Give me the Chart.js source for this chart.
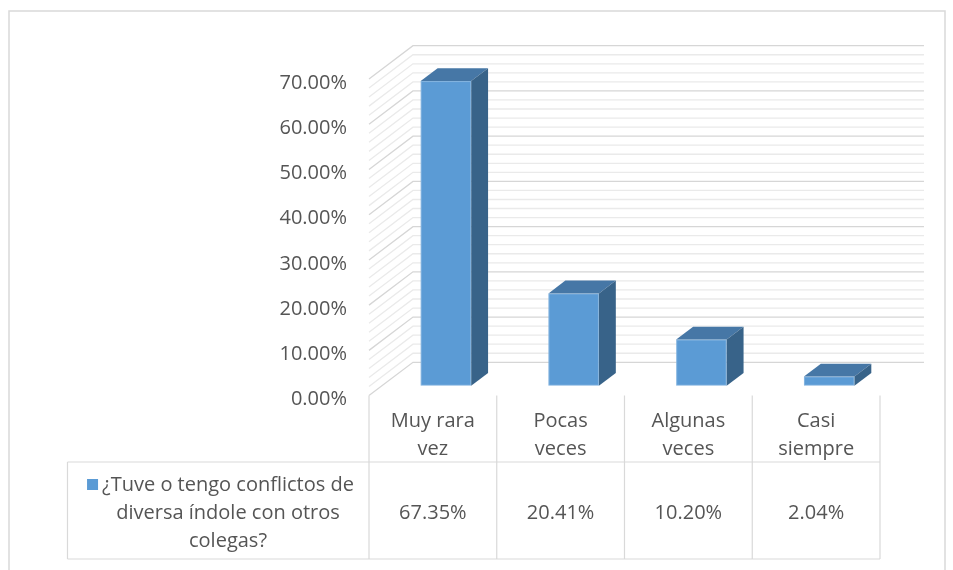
<!DOCTYPE html>
<html><head><meta charset="utf-8">
<script src="https://cdn.jsdelivr.net/npm/chart.js@4/dist/chart.umd.min.js"></script>
<style>html,body{margin:0;padding:0;background:#fff;}#wrap{width:953px;height:570px;}</style>
</head><body><div id="wrap"><canvas id="c" width="953" height="570"></canvas></div>
<script>
// ---- data ----
const categories = [['Muy rara', 'vez'], ['Pocas', 'veces'], ['Algunas', 'veces'], ['Casi', 'siempre']];
const seriesLabel = ['¿Tuve o tengo conflictos de', 'diversa índole con otros', 'colegas?'];
const values = [67.35, 20.41, 10.20, 2.04];
const yTickValues = [0, 10, 20, 30, 40, 50, 60, 70];
const minorStep = 2;

// ---- style ----
const FONT = '"Open Sans", sans-serif';
const FS = 20;
const TEXT = '#555555';
const FRONT = '#5B9BD5', TOP = '#4677A6', SIDE = '#386389';
const GRID_MAJOR = '#D6D6D6', GRID_MINOR = '#EAEAEA', TABLE_LINE = '#D9D9D9';
const SLOPE = 1.32;               // x shift per 1px of depth (y)
const D_BAR_FRONT = 9.9, D_BAR_BACK = 22.7, D_WALL = 33.3;

const threeD = {
  id: 'threeD',
  beforeDatasetsDraw(chart) {
    const { ctx, chartArea: a, scales: { y } } = chart;
    const wx = D_WALL * SLOPE, wy = -D_WALL;
    const maxV = yTickValues[yTickValues.length - 1];
    ctx.save();
    ctx.lineWidth = 1.3;
    for (let v = 0; v <= maxV + 1e-9; v += minorStep) {
      const major = yTickValues.includes(Math.round(v));
      const py = y.getPixelForValue(v);
      ctx.strokeStyle = major ? GRID_MAJOR : GRID_MINOR;
      ctx.beginPath();
      ctx.moveTo(a.left, py);
      ctx.lineTo(a.left + wx, py + wy);
      ctx.lineTo(a.right + wx, py + wy);
      ctx.stroke();
    }
    ctx.restore();
    ctx.save();
    ctx.translate(D_BAR_FRONT * SLOPE, -D_BAR_FRONT);
  },
  afterDatasetsDraw(chart) {
    const { ctx } = chart;
    ctx.restore();
    const ox = D_BAR_FRONT * SLOPE, oy = -D_BAR_FRONT;
    const d = D_BAR_BACK - D_BAR_FRONT;
    const bx = d * SLOPE, by = -d;
    chart.getDatasetMeta(0).data.forEach(bar => {
      const L = bar.x - bar.width / 2 + ox, R = bar.x + bar.width / 2 + ox;
      const T = bar.y + oy, B = bar.base + oy;
      ctx.fillStyle = TOP;
      ctx.beginPath();
      ctx.moveTo(L, T); ctx.lineTo(R, T); ctx.lineTo(R + bx, T + by); ctx.lineTo(L + bx, T + by);
      ctx.closePath(); ctx.fill();
      ctx.fillStyle = SIDE;
      ctx.beginPath();
      ctx.moveTo(R, T); ctx.lineTo(R + bx, T + by); ctx.lineTo(R + bx, B + by); ctx.lineTo(R, B);
      ctx.closePath(); ctx.fill();
      ctx.strokeStyle = 'rgba(255,255,255,0.25)';
      ctx.lineWidth = 1;
      ctx.strokeRect(L + 0.5, T + 0.5, R - L - 1, B - T - 1);
    });
  },
  afterDraw(chart) {
    const { ctx, chartArea: a, scales: { x } } = chart;
    const n = categories.length;
    const cw = (a.right - a.left) / n;
    const rowTop = 395.6, rowMid = 462, rowBot = 559, tableLeft = 67.5;
    ctx.save();
    ctx.strokeStyle = TABLE_LINE;
    ctx.lineWidth = 1.2;
    ctx.beginPath();
    for (let i = 0; i <= n; i++) {
      const px = x.getPixelForValue(0) - cw / 2 + i * cw;
      ctx.moveTo(px, rowTop); ctx.lineTo(px, rowBot);
    }
    ctx.moveTo(tableLeft, rowMid); ctx.lineTo(a.right, rowMid);
    ctx.moveTo(tableLeft, rowBot); ctx.lineTo(a.right, rowBot);
    ctx.moveTo(tableLeft, rowMid); ctx.lineTo(tableLeft, rowBot);
    ctx.stroke();
    // outer chart border
    ctx.strokeStyle = '#D9D9D9';
    ctx.lineWidth = 1.5;
    ctx.strokeRect(9, 11, 936, 600);
    // series row
    ctx.font = FS + 'px ' + FONT;
    ctx.fillStyle = TEXT;
    ctx.textAlign = 'center';
    ctx.textBaseline = 'middle';
    const cx = 228, lh = 28, y0 = 485;
    seriesLabel.forEach((t, i) => ctx.fillText(t, cx, y0 + i * lh));
    const w0 = ctx.measureText(seriesLabel[0]).width;
    ctx.fillStyle = FRONT;
    ctx.fillRect(cx - w0 / 2 - 15, y0 - 6, 11, 11);
    ctx.fillStyle = TEXT;
    values.forEach((v, i) => ctx.fillText(v.toFixed(2) + '%', x.getPixelForValue(i), y0 + lh));
    ctx.restore();
  }
};

new Chart(document.getElementById('c'), {
  type: 'bar',
  data: {
    labels: categories,
    datasets: [{
      label: seriesLabel.join(' '),
      data: values,
      backgroundColor: FRONT,
      borderWidth: 0,
      barPercentage: 0.395,
      categoryPercentage: 1
    }]
  },
  options: {
    responsive: false,
    animation: false,
    layout: { padding: { left: 0, top: 79, right: 73, bottom: 0 } },
    plugins: { legend: { display: false }, tooltip: { enabled: false } },
    scales: {
      x: {
        grid: { display: false, drawTicks: false },
        border: { display: false },
        ticks: { font: { family: FONT, size: FS, lineHeight: 28 / FS }, color: TEXT, padding: 12, maxRotation: 0, autoSkip: false },
        afterFit(s) { s.height = 174.4; }
      },
      y: {
        min: 0, max: 70,
        grid: { display: false, drawTicks: false },
        border: { display: false },
        afterBuildTicks(s) { s.ticks = yTickValues.map(v => ({ value: v })); },
        ticks: { callback: v => v.toFixed(2) + '%', font: { family: FONT, size: FS }, color: TEXT, padding: 22, labelOffset: 4 },
        afterFit(s) { s.width = 369; }
      }
    }
  },
  plugins: [threeD]
});
</script></body></html>
